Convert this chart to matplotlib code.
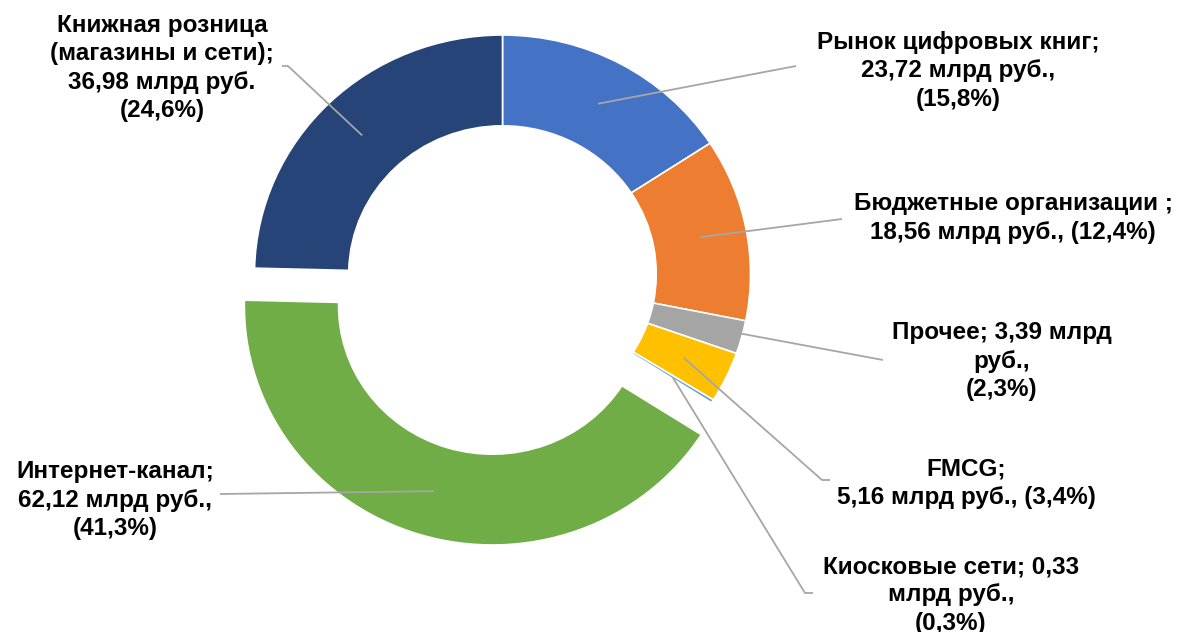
import numpy as np
import matplotlib
matplotlib.use('Agg')
import matplotlib.pyplot as plt

##Data

names=['Рынок цифровых книг','Бюджетные организации','Прочее','FMCG',
       'Киосковые сети','Интернет-канал','Книжная розница']
values=[23.72,18.56,3.39,5.16,0.33,62.12,36.98] #млрд руб.
shares=[15.8,12.4,2.3,3.4,0.3,41.3,24.6] #% as printed on the chart
exploded=[0,0,0,0,0,1,0]
colors=['#4472C4','#ED7D31','#A5A5A5','#FFC000','#5B9BD5','#70AD47','#264478']

#label layouts (how each label is broken into lines)
templates=['{n};\n{v} млрд руб.,\n({p}%)',
           '{n} ;\n{v} млрд руб., ({p}%)',
           '{n}; {v} млрд\nруб.,\n({p}%)',
           '{n};\n{v} млрд руб., ({p}%)',
           'Киосковые сети; {v}\nмлрд руб.,\n({p}%)',
           '{n};\n{v} млрд руб.,\n({p}%)',
           'Книжная розница\n(магазины и сети);\n{v} млрд руб.\n({p}%)']

def fmt(x):
    return f'{x:.2f}'.replace('.',',')

labels=[t.format(n=n,v=fmt(v),p=f'{p:.1f}'.replace('.',','))
        for t,n,v,p in zip(templates,names,values,shares)]

##Layout (pixels of the 1183x632 picture)

W,H=1183,632
k=248/239 #the doughnut is a bit wider than tall
cx,cy=502.5,274
R=248
hole=0.62

def px(x,y):
    return x,(H-y)*k

#label centres and leader line end points
label_pos=[(958,71),(1013,218),(1002,361),(966,483),(951,595),(115,500),(162,68)]
leader_end=[[(796,66)],[(842,219)],[(883,360)],[(822,480),(830,480)],
            [(805,593),(813,593)],[(220,494)],[(288,66),(282,66)]]

##Plot

fig=plt.figure(figsize=(W/100,H/100),dpi=100)
ax=fig.add_axes([0,0,1,1])

center=px(cx,cy)
wedges,_=ax.pie(values,colors=colors,startangle=90,counterclock=False,
                radius=R,center=center,explode=[e*0.14*R for e in exploded],
                wedgeprops=dict(width=R*(1-hole),edgecolor='white',linewidth=1.2))
ax.set_aspect('auto')
ax.set_xlim(0,W)
ax.set_ylim(0,H*k)
ax.axis('off')

for w,lab,pos,ends in zip(wedges,labels,label_pos,leader_end):
    th=np.deg2rad((w.theta1+w.theta2)/2)
    r=R*(1+hole)/2
    x0=w.center[0]+r*np.cos(th)
    y0=w.center[1]+r*np.sin(th)
    xs=[x0]+[px(*e)[0] for e in ends]
    ys=[y0]+[px(*e)[1] for e in ends]
    ax.plot(xs,ys,color='#A6A6A6',lw=1.3,solid_capstyle='butt')
    tx,ty=px(*pos)
    ax.text(tx,ty,lab,ha='center',va='center',fontsize=17.5,fontweight='bold',
            family='Liberation Sans',linespacing=1.3,color='black')

plt.savefig('out.png',dpi=100)
